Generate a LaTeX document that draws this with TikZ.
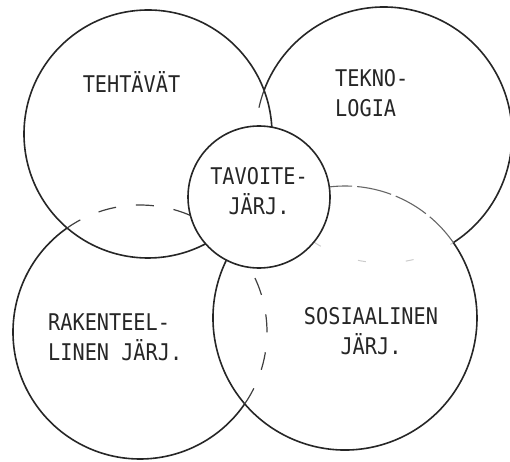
\documentclass[tikz,border=0pt]{standalone}
\usepackage{fontspec}
\newfontfamily\plotfont[FakeStretch=0.88]{DejaVu Sans Mono}
\usetikzlibrary{positioning}

\tikzset{
  ring/.style={line width=1.6pt, black!85},
  hidden/.style={line width=1.2pt, black!75, dash pattern=on 18pt off 20pt},
  thinhidden/.style={line width=1.1pt, black!60, dash pattern=on 35pt off 5pt},
  faint/.style={line width=1pt, black!20, dash pattern=on 8pt off 40pt},
  lbl/.style={font=\plotfont\fontsize{23pt}{30pt}\selectfont, text=black!85, inner sep=0pt}
}

\begin{document}
\begin{tikzpicture}[x=1pt,y=1pt]
    \useasboundingbox (0,0) rectangle (510,461);
    % Circle centres
    \coordinate (cteh) at (148,327);
    \coordinate (ctek) at (384,326);
    \coordinate (crak) at (140,129);
    \coordinate (csos) at (345,143);
    \coordinate (ctav) at (259,264);
    % Tasks
    \draw[ring] (cteh) ++(3.15:124pt) arc[start angle=3.15, end angle=297.69, radius=124pt];
    % Technology
    \draw[ring] (ctek) ++(-57.2:128pt) arc[start angle=-57.2, end angle=159.6, radius=128pt];
    \draw[hidden] (ctek) ++(159.6:128pt) arc[start angle=159.6, end angle=176, radius=128pt];
    \draw[faint] (ctek) ++(236.8:128pt) arc[start angle=236.8, end angle=302.8, radius=128pt];
    % Social system
    \draw[ring] (csos) ++(153.97:132pt) arc[start angle=153.97, end angle=394.84, radius=132pt];
    \draw[thinhidden] (csos) ++(34.84:132pt) arc[start angle=34.84, end angle=96.8, radius=132pt];
    % Structural system
    \draw[ring] (crak) ++(125.02:127pt) arc[start angle=125.02, end angle=325.55, radius=127pt];
    \draw[hidden] (crak) ++(-34.45:127pt) arc[start angle=-34.45, end angle=30.61, radius=127pt];
    \draw[hidden] (crak) ++(66.6:127pt) arc[start angle=66.6, end angle=125.02, radius=127pt];
    % Goal system
    \draw[ring] (ctav) circle[radius=71pt];
    % Labels
    \node[lbl] (tehtavat) at (131.5,379) {TEHTÄVÄT};
    \node[lbl, anchor=west, align=left] (teknologia) at (335,368) {TEKNO-\\LOGIA};
    \node[lbl, align=center] (tavoite) at (259,270) {TAVOITE-\\JÄRJ.};
    \node[lbl, anchor=west, align=left] (rakenne) at (48,124) {RAKENTEEL-\\LINEN JÄRJ.};
    \node[lbl, align=center] (sosiaalinen) at (371,130) {SOSIAALINEN\\JÄRJ.};
  \end{tikzpicture}
\end{document}
